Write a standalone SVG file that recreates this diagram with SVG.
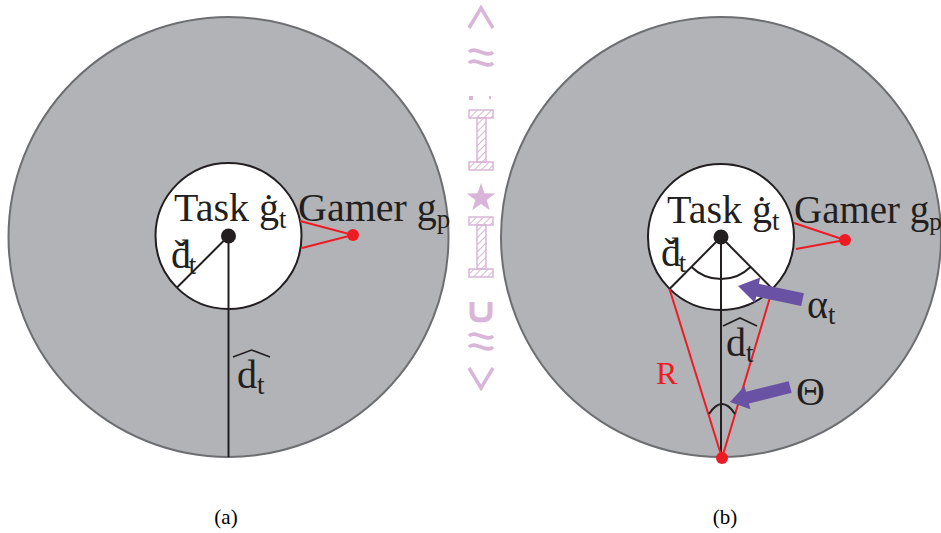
<svg xmlns="http://www.w3.org/2000/svg" width="941" height="533" viewBox="0 0 941 533">
<defs>
<style>
.outer{fill:#b1b3b6;stroke:#6d6e71;stroke-width:2}
.inner{fill:#ffffff;stroke:#231f20;stroke-width:2}
.blk{stroke:#231f20;stroke-width:2;fill:none}
.red{stroke:#ed1c24;stroke-width:2;fill:none}
.dot{fill:#231f20}
.rdot{fill:#ed1c24}
text{font-family:"Liberation Serif","Times New Roman","DejaVu Serif",serif}
.t{fill:#231f20;font-size:40px}
.g{font-size:39px}
.s{font-size:27px}
.cap{fill:#000;font-size:21px;text-anchor:middle}
.arrow{fill:#6951a3}
.wm{fill:none;stroke:#d9b6d8;stroke-width:3.5}
.wmf{fill:#d9b6d8}
</style>
<pattern id="hatch" width="5" height="5" patternUnits="userSpaceOnUse" patternTransform="rotate(45)">
<line x1="0" y1="0" x2="0" y2="5" stroke="#d9b6d8" stroke-width="2"/>
</pattern>
</defs>

<g id="watermark">
<polyline class="wm" points="469,28 481,8 493,28"/>
<path class="wm" d="M469,52 C475,45 487,59 493,52 M469,63 C475,56 487,70 493,63"/>
<rect class="wmf" x="469" y="96" width="4" height="4"/>
<rect class="wmf" x="489" y="96" width="2" height="3"/>
<g>
<rect x="469" y="110" width="24" height="8" fill="url(#hatch)" stroke="#d9b6d8" stroke-width="1.5"/>
<rect x="477" y="118" width="9" height="44" fill="url(#hatch)" stroke="#d9b6d8" stroke-width="1.5"/>
<rect x="469" y="162" width="24" height="8" fill="url(#hatch)" stroke="#d9b6d8" stroke-width="1.5"/>
</g>
<polygon class="wmf" points="481,183 484.5,193.2 495.3,193.4 486.7,199.9 489.8,210.2 481,204 472.2,210.2 475.3,199.9 466.7,193.4 477.5,193.2"/>
<g>
<rect x="469" y="217" width="24" height="8" fill="url(#hatch)" stroke="#d9b6d8" stroke-width="1.5"/>
<rect x="477" y="225" width="9" height="44" fill="url(#hatch)" stroke="#d9b6d8" stroke-width="1.5"/>
<rect x="469" y="269" width="24" height="8" fill="url(#hatch)" stroke="#d9b6d8" stroke-width="1.5"/>
</g>
<path d="M472,302 V313 Q472,320 481,320 Q490,320 490,313 V302" fill="none" stroke="#d9b6d8" stroke-width="5"/>
<path class="wm" d="M469,336 C475,329 487,343 493,336 M469,347 C475,340 487,354 493,347"/>
<polyline class="wm" points="469,368 481,388 493,368"/>
</g>

<g id="panel-a">
<g id="a-field"><circle class="outer" cx="228.5" cy="237" r="220"/></g>
<g id="a-task">
<circle class="inner" cx="228.5" cy="236" r="73"/>
<circle class="dot" cx="228.5" cy="236" r="7.5"/>
<text class="t" x="174" y="221">Task ġ<tspan class="s" dy="7">t</tspan></text>
<text class="t" x="171" y="268">d<tspan dx="-16.5">ˇ</tspan><tspan class="s" dx="1" dy="6">t</tspan></text>
</g>
<g id="a-gamer">
<circle class="rdot" cx="353" cy="235" r="6"/>
<text class="t" x="298" y="221">Gamer g<tspan class="s" dy="7">p</tspan></text>
</g>
<g id="a-connectors">
<line class="blk" x1="228.5" y1="236" x2="177" y2="287.5"/>
<line class="blk" x1="228.5" y1="236" x2="228.5" y2="457"/>
<polyline class="red" points="300,221 353,235 302,248"/>
</g>
<g id="a-dhat">
<path class="blk" style="stroke-width:1.6" d="M233,357 L251.5,350 L270,357"/>
<text class="t" x="237" y="388">d<tspan class="s" dy="6">t</tspan></text>
</g>
<text class="cap" x="226" y="524">(a)</text>
</g>

<g id="panel-b">
<g id="b-field"><circle class="outer" cx="721" cy="237" r="220"/></g>
<g id="b-task">
<circle class="inner" cx="721" cy="237" r="73"/>
<circle class="dot" cx="721" cy="237" r="7.5"/>
<text class="t" x="667" y="223">Task ġ<tspan class="s" dy="7">t</tspan></text>
<text class="t" x="661" y="266">d<tspan dx="-16.5">ˇ</tspan><tspan class="s" dx="1" dy="6">t</tspan></text>
</g>
<g id="b-gamer">
<circle class="rdot" cx="845" cy="240" r="6"/>
<text class="t g" x="794" y="223">Gamer g<tspan class="s" dy="7" style="font-size:25px">p</tspan></text>
</g>
<g id="b-connectors">
<line class="blk" x1="721" y1="237" x2="669.5" y2="289"/>
<line class="blk" x1="721" y1="237" x2="772.5" y2="289"/>
<line class="blk" x1="721" y1="237" x2="721" y2="458"/>
<polyline class="red" points="794,223 845,240 796,249"/>
<line class="red" x1="669.5" y1="289" x2="722" y2="458"/>
<line class="red" x1="772.5" y1="289" x2="722" y2="458"/>
<path class="blk" d="M691.3,266.7 A42,42 0 0 0 750.7,266.7"/>
<path class="blk" d="M709,414 Q722,394 735,414"/>
<circle class="rdot" cx="722" cy="458" r="6"/>
</g>
<g id="b-dhat">
<path class="blk" style="stroke-width:1.6" d="M723,326 L740,318 L757,326"/>
<text class="t" x="726" y="356">d<tspan class="s" dy="6">t</tspan></text>
</g>
<g id="b-R"><text class="t" x="656" y="384" style="fill:#ed1c24;font-size:32px">R</text></g>
<g id="b-alpha">
<polygon class="arrow" transform="translate(738,286) rotate(12)" points="0,0 20,-13 20,-6.5 66,-6.5 66,6.5 20,6.5 20,13"/>
<text class="t" x="807" y="318">α<tspan class="s" dy="6">t</tspan></text>
</g>
<g id="b-theta">
<polygon class="arrow" transform="translate(730,402) rotate(-14)" points="0,0 18,-12 18,-6 62,-6 62,6 18,6 18,12"/>
<text class="t" x="796" y="405">Θ</text>
</g>
<text class="cap" x="725" y="524">(b)</text>
</g>
</svg>
